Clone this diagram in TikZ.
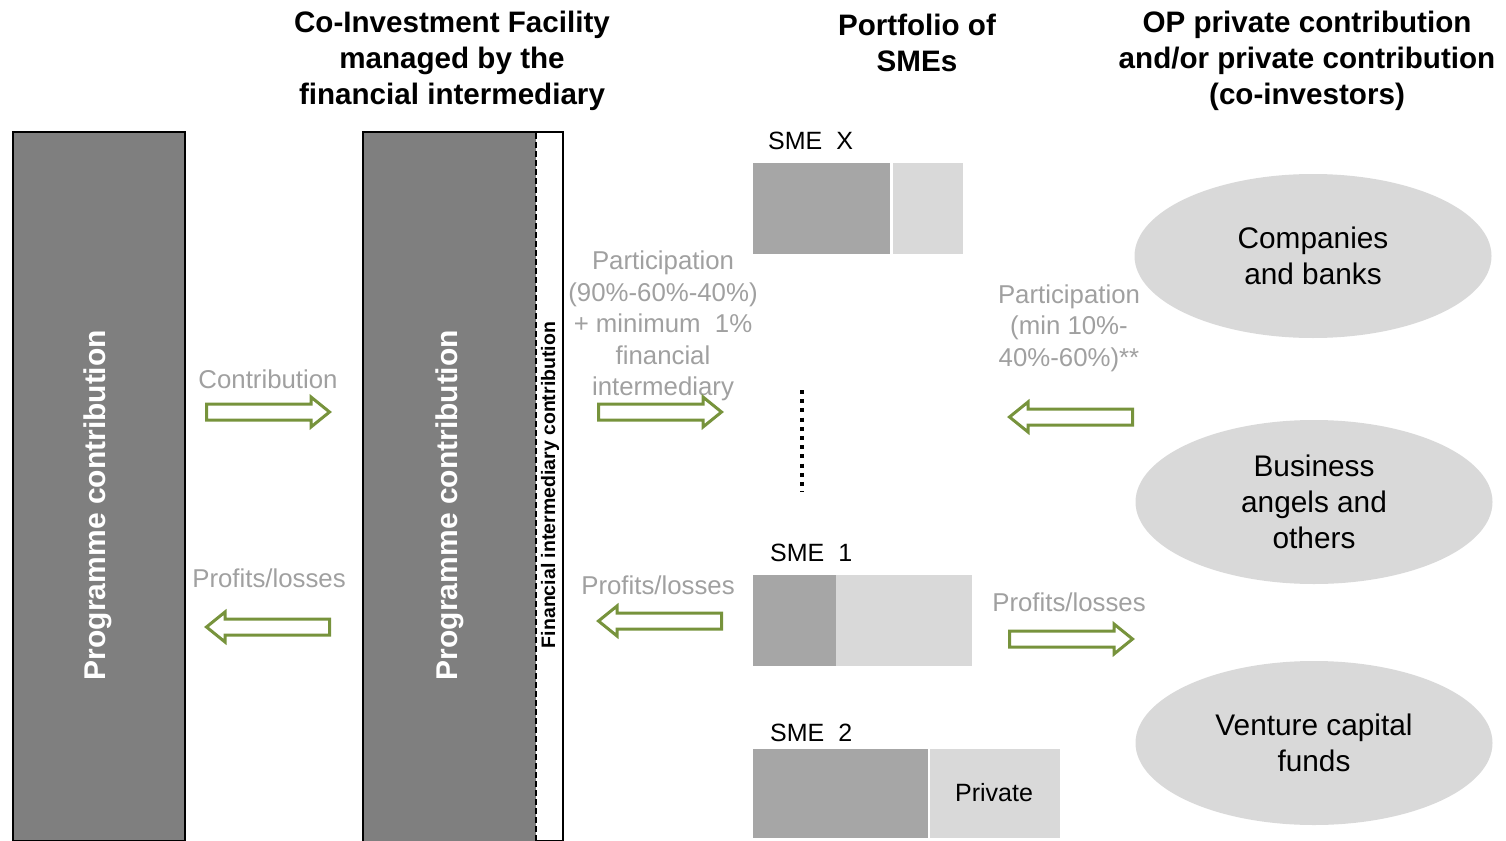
\documentclass[tikz,border=0pt]{standalone}
\usepackage{fontspec}
\setmainfont{Liberation Sans}
\usetikzlibrary{shapes.geometric}
\definecolor{arrowgreen}{RGB}{119,147,60}
\definecolor{labelgray}{RGB}{160,160,160}
\definecolor{bargray}{RGB}{127,127,127}
\definecolor{smedark}{RGB}{166,166,166}
\definecolor{smelight}{RGB}{217,217,217}
\tikzset{
  hdr/.style={font=\bfseries\fontsize{29.6}{36}\selectfont, align=center, inner sep=0},
  lbl/.style={text=labelgray, font=\fontsize{25.8}{31.6}\selectfont, align=center, inner sep=0},
  smelbl/.style={font=\fontsize{25}{30}\selectfont, anchor=west, inner sep=0},
  oval/.style={ellipse, fill=smelight, minimum width=357pt, minimum height=164pt, align=center, font=\fontsize{29.8}{36}\selectfont},
  bartxt/.style={text=white, font=\bfseries\fontsize{30}{36}\selectfont, rotate=90, inner sep=0},
  fatarrow/.pic={\draw[line width=3pt, draw=arrowgreen, fill=white] (-61.5,-8) -- (43,-8) -- (43,-15) -- (61.5,0) -- (43,15) -- (43,8) -- (-61.5,8) -- cycle;}
}

\begin{document}
\begin{tikzpicture}[x=1pt, y=-1pt]
	%%%%% START %%%%%
	\useasboundingbox (0,0) rectangle (1506,840);
	
	% headers
	\node[hdr] (hfacility) at (452,61) {Co-Investment Facility\\managed by the\\financial intermediary};
	\node[hdr] (hportfolio) at (917,43) {Portfolio of\\SMEs};
	\node[hdr] (hprivate) at (1307,61) {OP private contribution\\and/or private contribution\\(co-investors)};
	
	% programme bar
	\draw[line width=2pt, fill=bargray] (13,132) rectangle (185,841);
	\node[bartxt] (progleft) at (98,505) {Programme contribution};
	
	% facility bar
	\draw[line width=2pt, fill=white] (363,132) rectangle (563,841);
	\fill[bargray] (364,133) rectangle (536,841);
	\draw[line width=2.2pt, dash pattern=on 6pt off 3pt] (536,133) -- (536,841);
	\node[bartxt] (progmid) at (450,505) {Programme contribution};
	\node[rotate=90, inner sep=0, font=\bfseries\fontsize{19.5}{22}\selectfont] (fincontrib) at (550,485) {Financial intermediary contribution};
	
	% flows between bars
	\node[lbl] (lcontrib) at (268,379) {Contribution};
	\pic at (268,412) {fatarrow};
	\node[lbl] (lprofit) at (269,578) {Profits/losses};
	\pic[xscale=-1] at (268,627) {fatarrow};
	
	\node[lbl] (lpart) at (663,326) {Participation\\(90\%-60\%-40\%)\\+ minimum\ \ 1\%\\financial\\intermediary};
	\pic at (660,412) {fatarrow};
	\node[lbl] (lprofitmid) at (658,585) {Profits/losses};
	\pic[xscale=-1] at (660,621) {fatarrow};
	
	% SMEs
	\node[smelbl] (smex) at (768,141) {SME\ \ X};
	\fill[smedark] (753,163) rectangle (890,254);
	\fill[smelight] (893,163) rectangle (963,254);
	
	\draw[line width=4pt, dash pattern=on 4pt off 5.2pt] (802,390) -- (802,492);
	
	\node[smelbl] (smeone) at (770,553) {SME\ \ 1};
	\fill[smedark] (753,575) rectangle (836,666);
	\fill[smelight] (836,575) rectangle (972,666);
	
	\node[smelbl] (smetwo) at (770,733) {SME\ \ 2};
	\fill[smedark] (753,749) rectangle (928,838);
	\fill[smelight] (930,749) rectangle (1060,838);
	\node[inner sep=0, font=\fontsize{25}{30}\selectfont] (private) at (994,793) {Private};
	
	% co-investors
	\node[lbl] (lpartright) at (1069,328) {Participation\\(min 10\%-\\40\%-60\%)**};
	\pic[xscale=-1] at (1071,417) {fatarrow};
	\node[lbl] (lprofitright) at (1069,602) {Profits/losses};
	\pic at (1071,639) {fatarrow};
	
	\node[oval] (banks) at (1313,256) {Companies\\and banks};
	\node[oval] (angels) at (1314,502) {Business\\angels and\\others};
	\node[oval] (vcfunds) at (1314,743) {Venture capital\\funds};
	
	%%%%% END %%%%%
\end{tikzpicture}
\end{document}
